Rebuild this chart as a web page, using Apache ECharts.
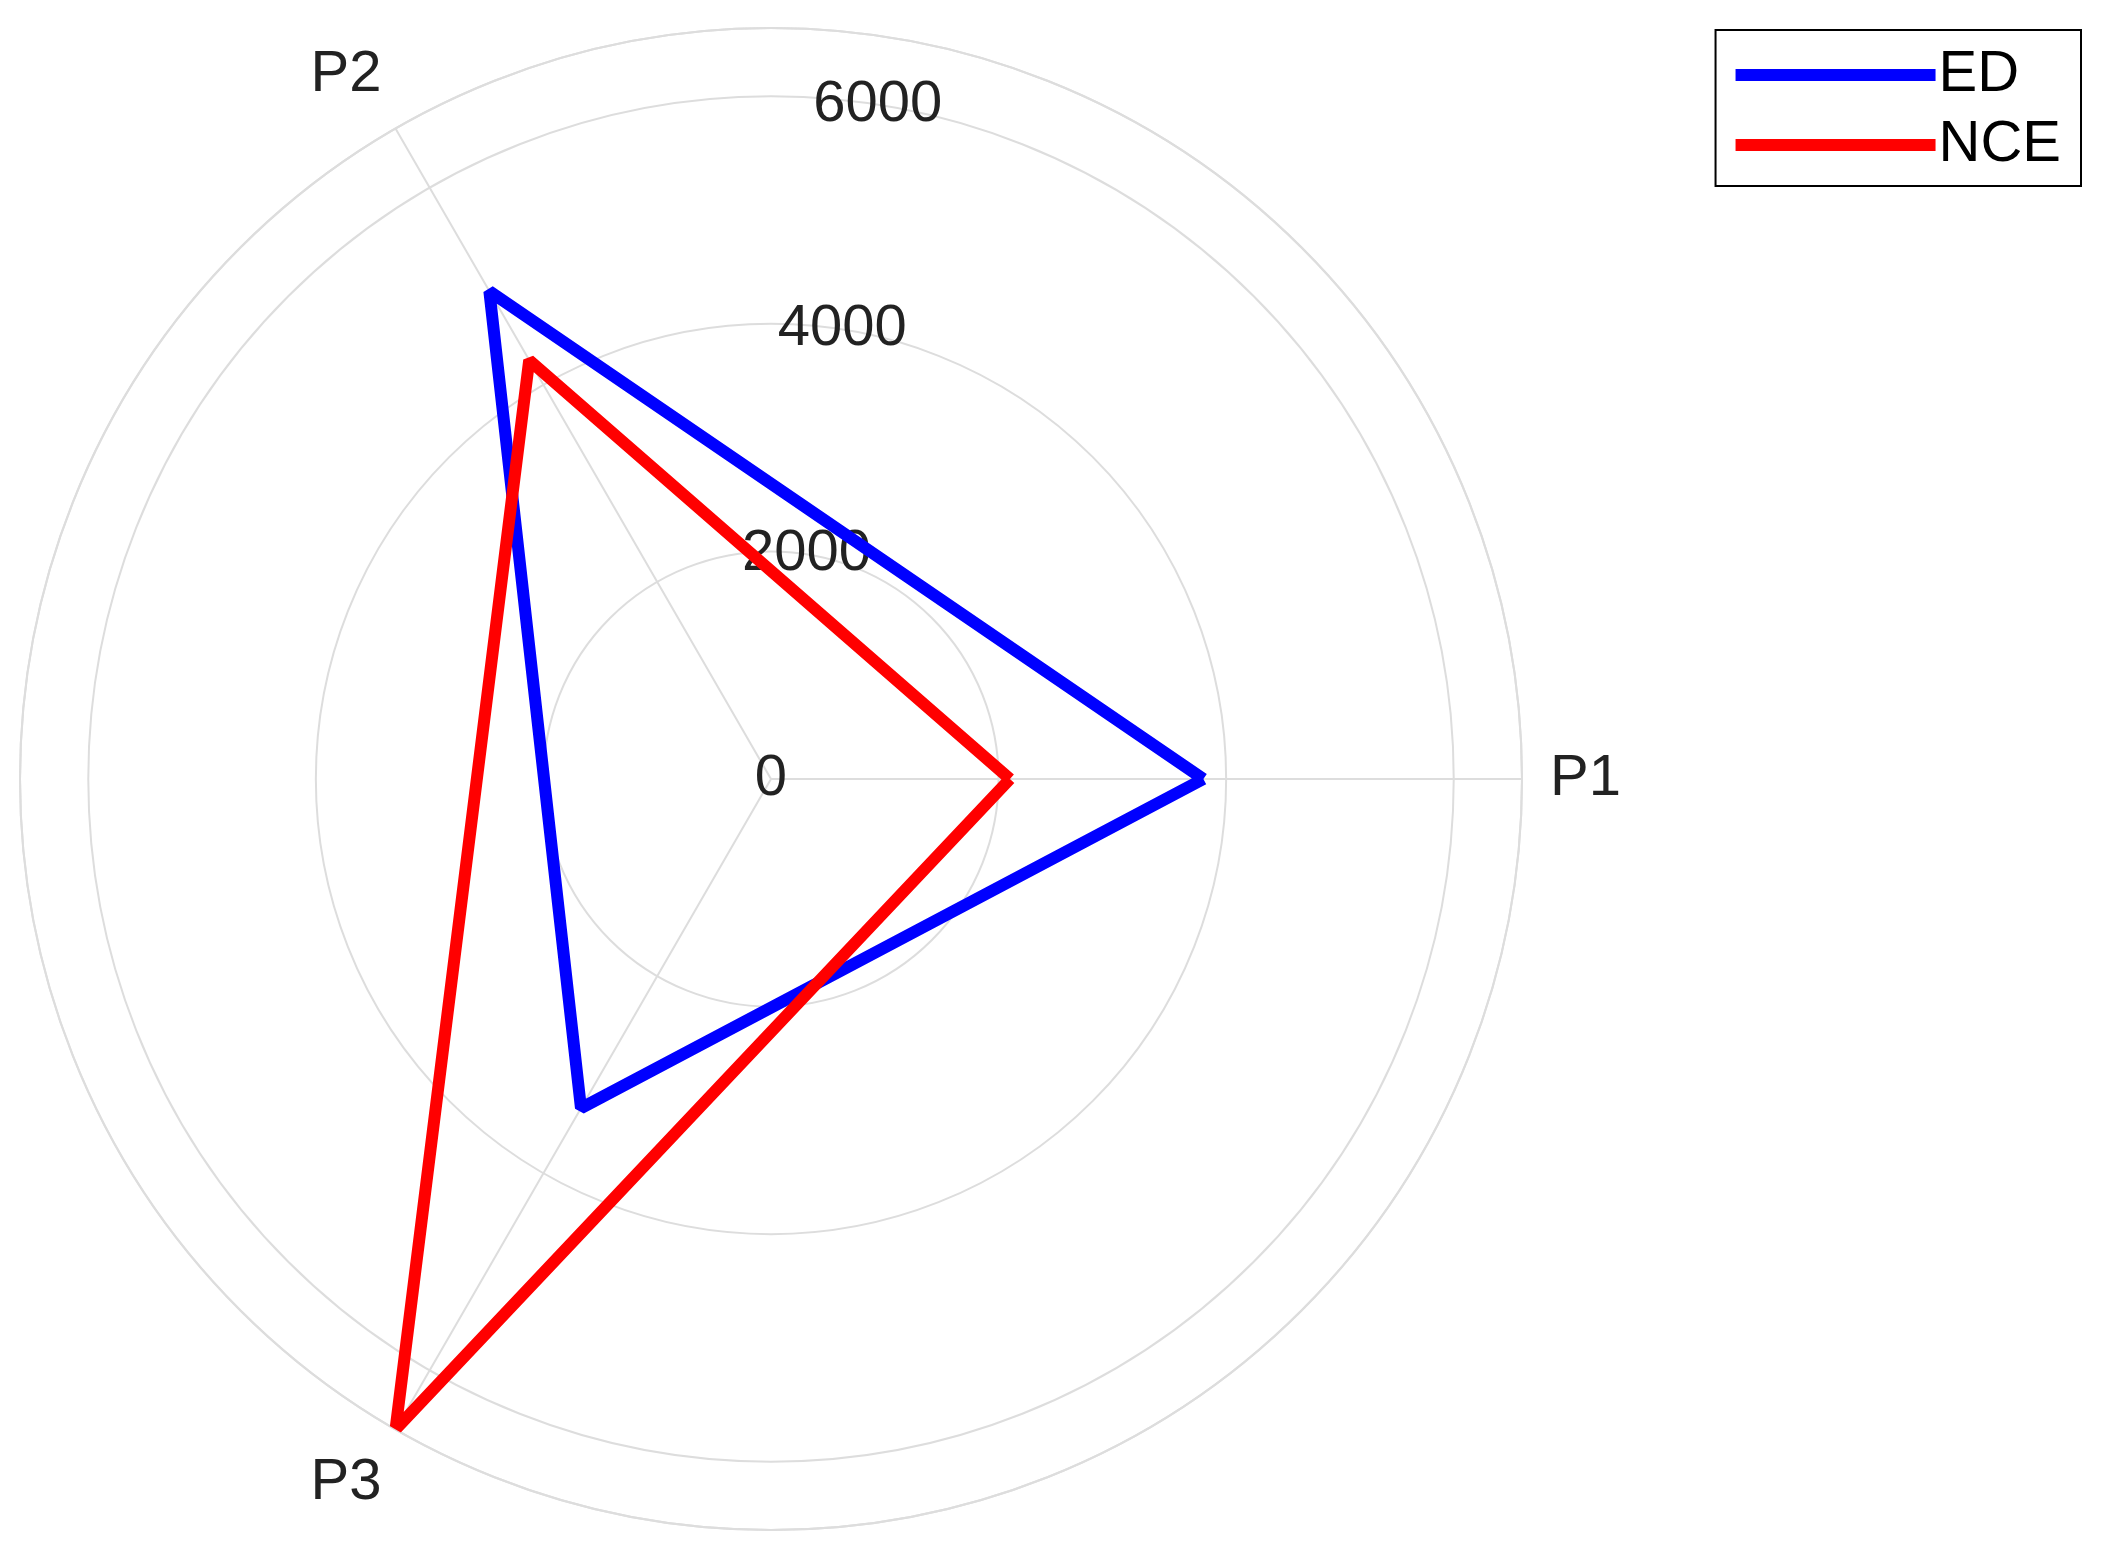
<!DOCTYPE html>
<html>
  <head>
    <meta charset="UTF-8" />
    <script src="https://cdn.jsdelivr.net/npm/echarts@6/dist/echarts.min.js"></script>
    <style>
      html, body { margin: 0; padding: 0; background: #fff; }
    </style>
  </head>
  <body>
    <div id="main"></div>
    <script>
      const width = 2103;
      const height = 1558;
      const main = document.getElementById('main');
      main.style.width = `${width}px`;
      main.style.height = `${height}px`;

      const categories = ['P1', 'P2', 'P3'];
      const angles = [0, 120, 240];
      const edValues = [3800, 4950, 3340];
      const nceValues = [2100, 4250, 6600];
      const radiusTicks = [0, 2000, 4000, 6000];

      const center = [771, 779];
      const radius = 751;
      const font = 'Liberation Sans, Arial, sans-serif';

      // close the polygon by repeating the first point
      const toPoints = (values) => {
        const pts = values.map((v, i) => [v, angles[i]]);
        pts.push(pts[0]);
        return pts;
      };

      const myChart = echarts.init(main);
      const option = {
        backgroundColor: '#fff',
        animation: false,
        legend: {
          right: 22,
          top: 30,
          orient: 'vertical',
          itemWidth: 200,
          itemHeight: 12,
          itemGap: 12,
          icon: 'rect',
          padding: [16, 20, 12, 20],
          borderColor: '#000',
          borderWidth: 2,
          textStyle: { fontSize: 58, fontFamily: font, color: '#000', padding: [0, 0, 0, -2] },
          data: ['ED', 'NCE'],
        },
        polar: [
          { center, radius },
          { center, radius },
        ],
        angleAxis: [
          {
            polarIndex: 0,
            type: 'value',
            min: 0,
            max: 360,
            interval: 120,
            startAngle: 0,
            clockwise: false,
            axisLine: { show: true, lineStyle: { color: '#ddd', width: 2 } },
            axisTick: { show: false },
            splitLine: { show: true, lineStyle: { color: '#ddd', width: 2 } },
            axisLabel: {
              margin: 28,
              fontSize: 58,
              fontFamily: font,
              color: '#222',
              formatter: (v) => {
                const i = angles.indexOf(v);
                return i >= 0 ? categories[i] : '';
              },
            },
          },
          {
            polarIndex: 1,
            type: 'value',
            min: 0,
            max: 360,
            startAngle: 81,
            show: false,
          },
        ],
        radiusAxis: [
          {
            polarIndex: 0,
            type: 'value',
            min: 0,
            max: 6600,
            interval: 2000,
            axisLine: { show: false },
            axisTick: { show: false },
            axisLabel: { show: false },
            splitLine: { show: true, lineStyle: { color: '#ddd', width: 2 } },
          },
          {
            polarIndex: 1,
            type: 'value',
            min: 0,
            max: 6600,
            interval: 2000,
            axisLine: { show: false },
            axisTick: { show: false },
            splitLine: { show: false },
            axisLabel: {
              fontSize: 58,
              fontFamily: font,
              color: '#222',
              margin: 0,
              align: 'center',
              verticalAlign: 'middle',
              formatter: (v) => (radiusTicks.includes(v) ? String(v) : ''),
            },
          },
        ],
        series: [
          {
            name: 'ED',
            type: 'line',
            coordinateSystem: 'polar',
            polarIndex: 0,
            symbol: 'none',
            lineStyle: { color: '#0000ff', width: 12 },
            itemStyle: { color: '#0000ff' },
            data: toPoints(edValues),
          },
          {
            name: 'NCE',
            type: 'line',
            coordinateSystem: 'polar',
            polarIndex: 0,
            symbol: 'none',
            lineStyle: { color: '#ff0000', width: 12 },
            itemStyle: { color: '#ff0000' },
            data: toPoints(nceValues),
          },
        ],
      };
      myChart.setOption(option);
    </script>
  </body>
</html>
